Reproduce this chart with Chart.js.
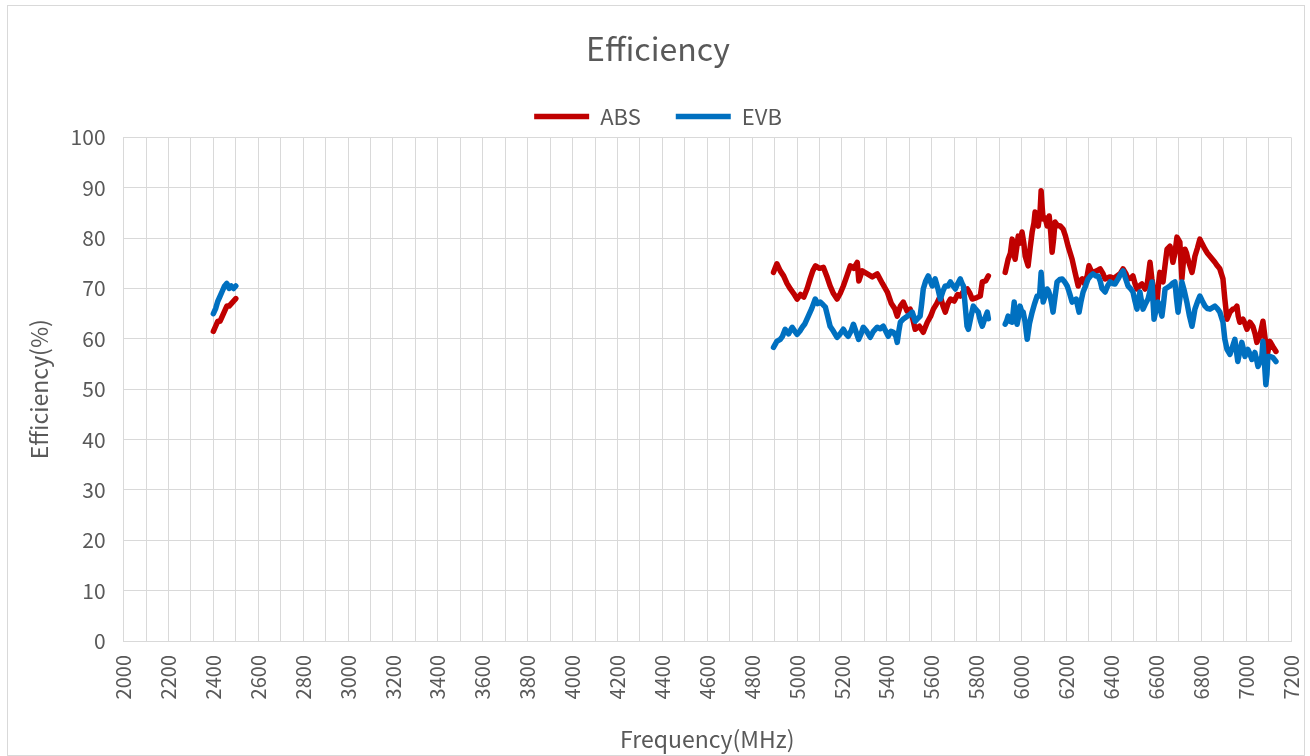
<!DOCTYPE html>
<html>
<head>
<meta charset="utf-8">
<script src="https://cdn.jsdelivr.net/npm/chart.js@4.4.1/dist/chart.umd.min.js"></script>
<style>
  body { margin: 0; background: #fff; overflow: hidden; }
  #frame { position: absolute; left: 7px; top: 5px; width: 1296px; height: 749px; border: 1px solid #d9d9d9; pointer-events: none; z-index: 2; }
  #box { position: absolute; left: 8px; top: 6px; width: 1323px; height: 749px; }
  canvas { display: block; }
</style>
</head>
<body>
<div id="frame"></div>
<div id="box"><canvas id="myChart"></canvas></div>
<script>
// frequency (MHz) / efficiency (%); null = gap between bands
var absFreq = [2400, 2410, 2420, 2430, 2440, 2450, 2460, 2470, 2480, 2490, 2500,
  3000,
  4895, 4910, 4925, 4940, 4955, 4970, 4985, 5000, 5015, 5030, 5045, 5058, 5070, 5082, 5100, 5117, 5132, 5147, 5162, 5178,
  5192, 5206, 5222, 5237, 5252, 5268, 5275, 5290, 5313, 5335, 5357, 5380, 5402, 5420, 5435, 5446, 5460, 5473, 5490, 5504,
  5515, 5526, 5545, 5562, 5580, 5595, 5607, 5622, 5638, 5650, 5660, 5672, 5683, 5700, 5715, 5727, 5742, 5758, 5770, 5780,
  5800, 5816, 5825, 5840, 5852,
  5890,
  5927, 5940, 5950, 5958, 5965, 5971, 5978, 5985, 5993, 6002, 6010, 6016, 6029, 6038, 6047, 6055, 6060, 6068, 6074, 6082,
  6087, 6092, 6096, 6105, 6114, 6123, 6130, 6136, 6143, 6149, 6160, 6172, 6185, 6195, 6207, 6225, 6238, 6252, 6260, 6270,
  6280, 6292, 6300, 6310, 6318, 6335, 6350, 6362, 6372, 6394, 6410, 6425, 6440, 6452, 6464, 6474, 6485, 6496, 6505, 6514,
  6525, 6536, 6550, 6560, 6572, 6580, 6585, 6595, 6603, 6610, 6616, 6623, 6630, 6640, 6648, 6661, 6668, 6674, 6683, 6692,
  6705, 6710, 6714, 6720, 6728, 6735, 6741, 6750, 6759, 6765, 6772, 6783, 6794, 6805, 6817, 6828, 6839, 6850, 6861, 6872,
  6883, 6897, 6905, 6915, 6928, 6941, 6950, 6959, 6965, 6972, 6986, 6995, 7004, 7017, 7030, 7040, 7048, 7061, 7075, 7085,
  7093, 7106, 7119, 7133];
var absEff = [61.5, 62.5, 63.5, 63.5, 64.5, 65.5, 66.5, 66.5, 67, 67.5, 68,
  null,
  73.2, 74.9, 73.5, 72.5, 71, 69.9, 69, 67.9, 68.8, 68.3, 70, 71.9, 73.5, 74.5, 74, 74.2, 72.5, 70.5, 69, 67.9,
  69, 70.5, 72.5, 74.5, 74, 75.2, 71.5, 73.5, 72.9, 72.3, 72.9, 71, 69.3, 67, 66, 64.5, 66.5, 67.3, 65.5, 65.9,
  64, 61.9, 62.5, 61.3, 63.3, 64.5, 65.9, 67, 68.5, 66.5, 65.3, 67, 67.9, 67.5, 68.8, 68.5, 69.5, 69.9, 69, 67.9,
  68.2, 68.5, 71.3, 71.5, 72.5,
  null,
  73.2, 75.8, 77, 79.8, 77, 75.8, 78, 80.4, 79, 81.2, 79, 76.4, 74.5, 78, 81.2, 83, 85.2, 83, 82.4, 85,
  89.4, 86, 83.8, 84, 82.4, 84.4, 81, 77.2, 80, 83.2, 82.5, 82.4, 81.8, 80.5, 78.4, 75.8, 73.2, 70.5, 71.5, 71.9,
  71, 72.5, 74.5, 73.5, 73.2, 73.5, 73.9, 73, 71.9, 72.3, 72, 72.5, 73, 73.9, 73, 71.9, 72, 72.5, 71, 69.9,
  70.5, 70.9, 69.9, 71, 75.2, 72, 70.5, 69, 67.3, 71, 73.2, 72, 71.3, 75, 77.8, 78.4, 77, 75.2, 77, 80.2,
  79.2, 75, 71.9, 75, 77.8, 77, 75.8, 74.5, 73.2, 74.5, 76.4, 78, 79.8, 78.8, 77.8, 77, 76.4, 75.8, 75.2, 74.5,
  73.9, 71.9, 68, 63.9, 65.3, 65.9, 66, 66.5, 64.5, 63.3, 63.9, 63, 61.9, 63.3, 62.5, 61, 59.3, 60.5, 63.5, 60,
  56.5, 59.5, 58.5, 57.5];

var evbFreq = [2400, 2410, 2420, 2430, 2440, 2450, 2460, 2470, 2480, 2490, 2500,
  3000,
  4895, 4910, 4925, 4935, 4947, 4962, 4978, 4990, 5000, 5012, 5023, 5035, 5050, 5065, 5081, 5092, 5103, 5115, 5126, 5136,
  5147, 5162, 5178, 5192, 5206, 5218, 5228, 5240, 5251, 5262, 5274, 5285, 5295, 5310, 5326, 5340, 5357, 5370, 5384, 5395,
  5406, 5418, 5429, 5440, 5446, 5453, 5460, 5475, 5491, 5502, 5513, 5526, 5537, 5548, 5555, 5562, 5573, 5584, 5593, 5602,
  5615, 5627, 5638, 5650, 5660, 5672, 5683, 5695, 5705, 5716, 5727, 5735, 5741, 5750, 5757, 5763, 5775, 5785, 5797, 5807,
  5817, 5825, 5836, 5847, 5852,
  5890,
  5927, 5933, 5940, 5948, 5958, 5967, 5974, 5980, 5987, 5993, 6000, 6007, 6015, 6025, 6035, 6047, 6058, 6069, 6080, 6087,
  6092, 6096, 6105, 6114, 6120, 6127, 6134, 6140, 6148, 6158, 6170, 6181, 6192, 6203, 6214, 6225, 6234, 6243, 6250, 6256,
  6265, 6274, 6285, 6296, 6307, 6318, 6330, 6341, 6350, 6358, 6372, 6383, 6394, 6405, 6416, 6430, 6440, 6452, 6463, 6474,
  6485, 6496, 6505, 6514, 6520, 6527, 6534, 6541, 6552, 6563, 6572, 6581, 6586, 6590, 6600, 6608, 6617, 6625, 6632, 6639,
  6650, 6661, 6672, 6683, 6690, 6697, 6705, 6714, 6725, 6736, 6748, 6759, 6765, 6772, 6783, 6794, 6805, 6817, 6828, 6839,
  6850, 6861, 6872, 6883, 6897, 6905, 6915, 6928, 6940, 6950, 6957, 6963, 6972, 6981, 6988, 6995, 7002, 7008, 7017, 7026,
  7032, 7039, 7046, 7053, 7062, 7070, 7075, 7082, 7088, 7093, 7097, 7108, 7119, 7133];
var evbEff = [65, 66, 67.5, 68.5, 69.5, 70.5, 71, 70, 70.5, 70, 70.5,
  null,
  58.3, 59.5, 59.9, 60.5, 61.9, 61, 62.3, 61.5, 60.9, 61.5, 62.3, 63, 64.5, 66, 67.9, 67, 67.3, 66.8, 66.3, 64.5,
  62.5, 61.5, 60.3, 61, 61.9, 61, 60.5, 61.5, 62.9, 61.5, 59.9, 61, 62.3, 61.5, 60.3, 61.5, 62.3, 62, 62.5, 61.5,
  60.5, 61.5, 61.3, 60.5, 59.3, 61.5, 63.3, 64, 64.5, 64.8, 65.3, 63.5, 64, 64.5, 67, 69.9, 71.5, 72.5, 71.5, 70.5,
  71.9, 70, 67.9, 69.5, 70.5, 70.5, 71.3, 70.5, 69.9, 71, 71.9, 71, 70.5, 66, 62.5, 61.9, 64.5, 66.5, 65.8, 65.3,
  63.5, 62.5, 64, 65.3, 64,
  null,
  62.9, 63.5, 64.5, 63.5, 63.3, 67.3, 64, 62.9, 64.5, 66.5, 65.5, 65.3, 63.5, 59.9, 63, 65.3, 67, 68.5, 68.5, 73.2,
  70, 67.3, 68.5, 69.9, 69.5, 68.5, 67, 65.3, 68, 71.3, 71.8, 71.9, 71.3, 70.5, 69, 67.3, 67.5, 67.9, 66.5, 65.3,
  67.5, 69.3, 70.5, 71.9, 72.5, 72.9, 72.5, 72.5, 71.5, 70, 69.3, 70.5, 71.3, 71, 70.9, 71.9, 72.8, 73.5, 72, 70.5,
  70, 69.3, 67.5, 65.9, 67.5, 69.3, 67.5, 65.9, 67, 67.9, 69.5, 71.3, 67, 63.9, 66, 67.3, 66, 64.5, 67, 69.9,
  70.2, 70.5, 71, 71.3, 68, 65.3, 68, 71.3, 69.5, 67.3, 64.5, 62.5, 64, 65.9, 67.3, 68.5, 67.5, 66.5, 66, 65.9,
  66.2, 66.5, 66, 65.3, 63.3, 60, 57.9, 56.9, 58.5, 59.9, 57.5, 55.5, 57.5, 59.3, 58, 56.5, 57.5, 57.9, 57, 55.9,
  56.5, 57.3, 56, 54.5, 55.5, 56.5, 59.5, 55, 50.9, 53, 56.5, 56.5, 56.3, 55.5];

var xMin = 2000, xMax = 7200;
var yMin = 0, yMax = 100;

function toPoints(xs, ys) {
  return xs.map(function (x, i) { return { x: x, y: ys[i] }; });
}

var font = "'Noto Sans CJK SC', 'Noto Sans', sans-serif";
var grey = '#595959';
var gridColor = '#d9d9d9';

var ctx = document.getElementById('myChart').getContext('2d');
var myChart = new Chart(ctx, {
    type: 'line',
    data: {
        datasets: [{
            label: 'ABS',
            data: toPoints(absFreq, absEff),
            borderColor: '#c00000',
            backgroundColor: '#c00000',
            borderWidth: 5.5,
            order: 1
        },
        {
            label: 'EVB',
            data: toPoints(evbFreq, evbEff),
            borderColor: '#0070c0',
            backgroundColor: '#0070c0',
            borderWidth: 5.5,
            order: 0
        }]
    },
    options: {
        responsive: true,
        maintainAspectRatio: false,
        animation: false,
        spanGaps: false,
        layout: { padding: { top: 24, left: 17, right: 40, bottom: 2 } },
        elements: {
            point: { radius: 0, hoverRadius: 0 },
            line: { tension: 0, borderJoinStyle: 'round', borderCapStyle: 'round' }
        },
        plugins: {
            tooltip: { enabled: false },
            title: {
                display: true,
                text: 'Efficiency',
                color: grey,
                font: { family: font, size: 32, weight: 'normal' },
                padding: { top: 0, bottom: 2 }
            },
            legend: {
                position: 'top',
                maxHeight: 69,
                labels: {
                    color: grey,
                    font: { family: font, size: 22 },
                    usePointStyle: true,
                    pointStyle: 'line',
                    pointStyleWidth: 55,
                    boxHeight: 22,
                    padding: 35,
                    sort: function (a, b) { return a.datasetIndex - b.datasetIndex; }
                }
            }
        },
        scales: {
            x: {
                type: 'linear',
                min: xMin,
                max: xMax,
                ticks: {
                    stepSize: 100,
                    autoSkip: false,
                    maxRotation: 90,
                    minRotation: 90,
                    padding: 14,
                    color: grey,
                    font: { family: font, size: 20 },
                    callback: function (v) { return v % 200 === 0 ? String(v) : ''; }
                },
                grid: { color: gridColor, drawTicks: false },
                border: { color: gridColor },
                title: {
                    display: true,
                    text: 'Frequency(MHz)',
                    color: grey,
                    font: { family: font, size: 23 },
                    padding: { top: 12, bottom: 0 }
                }
            },
            y: {
                min: yMin,
                max: yMax,
                ticks: {
                    stepSize: 10,
                    padding: 18,
                    color: grey,
                    font: { family: font, size: 21 }
                },
                grid: { color: gridColor, drawTicks: false },
                border: { color: gridColor },
                title: {
                    display: true,
                    text: 'Efficiency(%)',
                    color: grey,
                    font: { family: font, size: 23 },
                    padding: { top: 0, bottom: 0 }
                }
            }
        }
    }
});
</script>
</body>
</html>
